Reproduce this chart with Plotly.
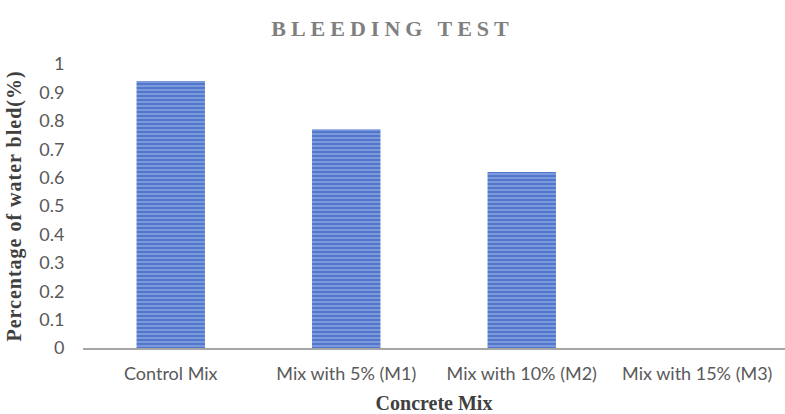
import plotly.graph_objects as go

categories = ["Control Mix", "Mix with 5% (M1)", "Mix with 10% (M2)", "Mix with 15% (M3)"]
bleeding = [0.94, 0.77, 0.62, 0.0]
y_ticks = [0, 0.1, 0.2, 0.3, 0.4, 0.5, 0.6, 0.7, 0.8, 0.9, 1]
y_tick_labels = ["0", "0.1", "0.2", "0.3", "0.4", "0.5", "0.6", "0.7", "0.8", "0.9", "1"]

fig = go.Figure(go.Bar(
    x=categories, y=bleeding, width=0.39,
    marker=dict(color="#5278cd", line=dict(width=0),
                pattern=dict(shape="-", fgcolor="#aec2ec", size=4, solidity=0.45)),
))

fig.update_layout(
    width=785, height=414,
    paper_bgcolor="white", plot_bgcolor="white",
    margin=dict(l=83, r=0, t=64, b=66),
    showlegend=False,
    title=dict(text="<span style='letter-spacing:5px'>BLEEDING TEST</span>",
               x=0.5, xanchor="center", y=0.932, yanchor="middle",
               font=dict(family="Liberation Serif", size=22, color="#7f7f7f", weight="bold")),
    xaxis=dict(showgrid=False, showline=True, linecolor="#a6a6a6", linewidth=1.5,
               automargin=False,
               ticks="outside", ticklen=9, tickcolor="rgba(0,0,0,0)",
               tickfont=dict(family="Lato", size=18, color="#595959"),
               title=dict(text="Concrete Mix", standoff=14,
                          font=dict(family="Liberation Serif", size=20, color="#404040", weight="bold"))),
    yaxis=dict(range=[0, 1], tickvals=y_ticks, ticktext=y_tick_labels, showgrid=False,
               zeroline=False, showline=False, automargin=False,
               ticks="outside", ticklen=14, tickcolor="rgba(0,0,0,0)",
               tickfont=dict(family="Lato", size=18, color="#595959"),
               title=dict(text="<span style='letter-spacing:1px'>Percentage of water bled(%)</span>", standoff=12,
                          font=dict(family="Liberation Serif", size=20, color="#404040", weight="bold"))),
)

fig.write_html("out.html", config={"displayModeBar": False},
               post_script="document.body.style.margin='0';")
